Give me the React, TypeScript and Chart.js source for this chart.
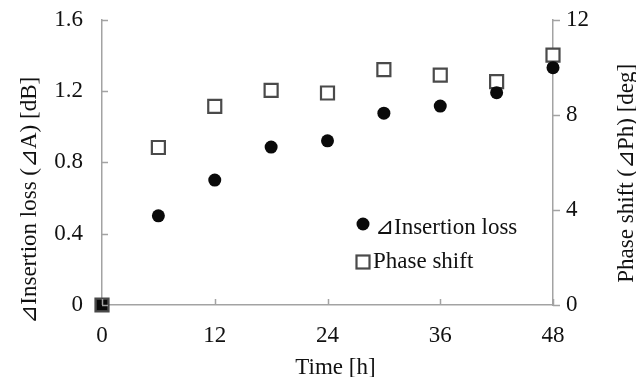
import React, { useEffect, useRef } from "react";
import { Chart, registerables } from "chart.js";

Chart.register(...registerables);

// ---- data ----
const times = [0, 6, 12, 18, 24, 30, 36, 42, 48];
const insertionLoss = [0, 0.5, 0.7, 0.885, 0.92, 1.075, 1.115, 1.19, 1.33];
const phaseShift = [0, 6.62, 8.35, 9.02, 8.91, 9.89, 9.66, 9.39, 10.5];
const xTicks = [0, 12, 24, 36, 48];
const leftTicks = [0, 0.4, 0.8, 1.2, 1.6];
const rightTicks = [0, 4, 8, 12];
const seriesNames = ["⊿Insertion loss", "Phase shift"];
const xTitle = "Time [h]";
const leftTitle = "⊿Insertion loss (⊿A) [dB]";
const rightTitle = "Phase shift (⊿Ph) [deg]";

const FONT = "'Liberation Serif', 'Times New Roman', serif";
const FS = 23;
const AXIS = "#a3a3a3";
const TEXT = "#111111";
const DOT = "#0a0a0a";
const SQ = "#4a4a4a";

const decoPlugin = {
  id: "deco",
  afterDraw(chart: any) {
    const { ctx, chartArea: a, scales } = chart;
    ctx.save();
    ctx.strokeStyle = AXIS;
    ctx.lineWidth = 1.5;
    const line = (x1: number, y1: number, x2: number, y2: number) => {
      ctx.beginPath();
      ctx.moveTo(x1, y1);
      ctx.lineTo(x2, y2);
      ctx.stroke();
    };
    xTicks.forEach((v) => {
      const px = Math.round(scales.x.getPixelForValue(v)) + 0.5;
      line(px, a.bottom, px, a.bottom - 6);
    });
    leftTicks.forEach((v) => {
      const py = Math.round(scales.y.getPixelForValue(v)) + 0.5;
      line(a.left, py, a.left + 6, py);
    });
    rightTicks.forEach((v) => {
      const py = Math.round(scales.y1.getPixelForValue(v)) + 0.5;
      line(a.right, py, a.right + 7, py);
    });

    // axis titles
    ctx.fillStyle = TEXT;
    ctx.font = `${FS}px ${FONT}`;
    ctx.textAlign = "center";
    ctx.textBaseline = "middle";
    ctx.fillText(xTitle, (a.left + a.right) / 2 + 8, a.bottom + 63);
    ctx.save();
    ctx.translate(22, (a.top + a.bottom) / 2 + 38);
    ctx.rotate(-Math.PI / 2);
    ctx.fillText(leftTitle, 0, 0);
    ctx.restore();
    ctx.save();
    ctx.translate(619, (a.top + a.bottom) / 2 + 11);
    ctx.rotate(-Math.PI / 2);
    ctx.fillText(rightTitle, 0, 0);
    ctx.restore();

    // legend
    const lx = 355;
    const ly1 = 216;
    const ly2 = 254;
    ctx.fillStyle = DOT;
    ctx.beginPath();
    ctx.arc(lx, ly1, 6.5, 0, Math.PI * 2);
    ctx.fill();
    ctx.strokeStyle = SQ;
    ctx.lineWidth = 2.2;
    ctx.strokeRect(lx - 6.5, ly2 - 6.5, 13, 13);
    ctx.fillStyle = TEXT;
    ctx.textAlign = "left";
    ctx.fillText(seriesNames[0], lx + 12, ly1 + 4);
    ctx.fillText(seriesNames[1], lx + 10, ly2);
    ctx.restore();
  },
};

export default function App() {
  const ref = useRef<HTMLCanvasElement | null>(null);
  useEffect(() => {
    if (!ref.current) return;
    const chart = new Chart(ref.current, {
      type: "scatter",
      data: {
        datasets: [
          {
            label: seriesNames[0],
            data: times.map((t, i) => ({ x: t, y: insertionLoss[i] })),
            yAxisID: "y",
            pointStyle: (c: any) => (c.raw && c.raw.x === 0 ? "rect" : "circle"),
            pointRadius: (c: any) => (c.raw && c.raw.x === 0 ? 8 : 6.5),
            backgroundColor: DOT,
            borderColor: DOT,
            borderWidth: 0,
            clip: false,
          },
          {
            label: seriesNames[1],
            data: times.map((t, i) => ({ x: t, y: phaseShift[i] })),
            yAxisID: "y1",
            pointStyle: "rect",
            pointRadius: 9.2,
            backgroundColor: "#ffffff",
            borderColor: SQ,
            borderWidth: 2.2,
            clip: false,
          },
        ],
      },
      plugins: [decoPlugin],
      options: {
        animation: false,
        responsive: true,
        maintainAspectRatio: false,
        layout: { padding: { top: 0, left: 0, right: 0, bottom: 0 } },
        plugins: {
          legend: { display: false },
          tooltip: { enabled: false },
        },
        scales: {
          x: {
            type: "linear",
            min: 0,
            max: 48,
            afterBuildTicks: (s: any) => {
              s.ticks = xTicks.map((v) => ({ value: v }));
            },
            afterFit: (s: any) => {
              s.height = 72;
            },
            grid: {
              display: true,
              drawOnChartArea: false,
              drawTicks: true,
              tickLength: 17,
              tickColor: "rgba(0,0,0,0)",
            },
            border: { display: true, color: AXIS, width: 1.5 },
            ticks: {
              padding: 0,
              color: TEXT,
              font: { family: FONT, size: FS },
              maxRotation: 0,
              callback: (v: any) => String(v),
            },
          },
          y: {
            type: "linear",
            position: "left",
            min: 0,
            max: 1.6,
            afterBuildTicks: (s: any) => {
              s.ticks = leftTicks.map((v) => ({ value: v }));
            },
            afterFit: (s: any) => {
              s.width = 94;
            },
            grid: {
              display: true,
              drawOnChartArea: false,
              drawTicks: true,
              tickLength: 19,
              tickColor: "rgba(0,0,0,0)",
            },
            border: { display: true, color: AXIS, width: 1.5 },
            ticks: {
              padding: 0,
              color: TEXT,
              font: { family: FONT, size: FS, lineHeight: 1.0 },
              callback: (v: any) => (v === 0 ? "0" : Number(v).toFixed(1)),
            },
          },
          y1: {
            type: "linear",
            position: "right",
            min: 0,
            max: 12,
            afterBuildTicks: (s: any) => {
              s.ticks = rightTicks.map((v) => ({ value: v }));
            },
            afterFit: (s: any) => {
              s.width = 83;
            },
            grid: {
              display: true,
              drawOnChartArea: false,
              drawTicks: true,
              tickLength: 13,
              tickColor: "rgba(0,0,0,0)",
            },
            border: { display: true, color: AXIS, width: 1.5 },
            ticks: {
              padding: 0,
              color: TEXT,
              font: { family: FONT, size: FS, lineHeight: 1.0 },
              callback: (v: any) => String(v),
            },
          },
        },
      },
    } as any);
    return () => chart.destroy();
  }, []);
  return (
    <div style={{ width: 628, height: 369, position: "relative" }}>
      <canvas ref={ref} />
    </div>
  );
}
